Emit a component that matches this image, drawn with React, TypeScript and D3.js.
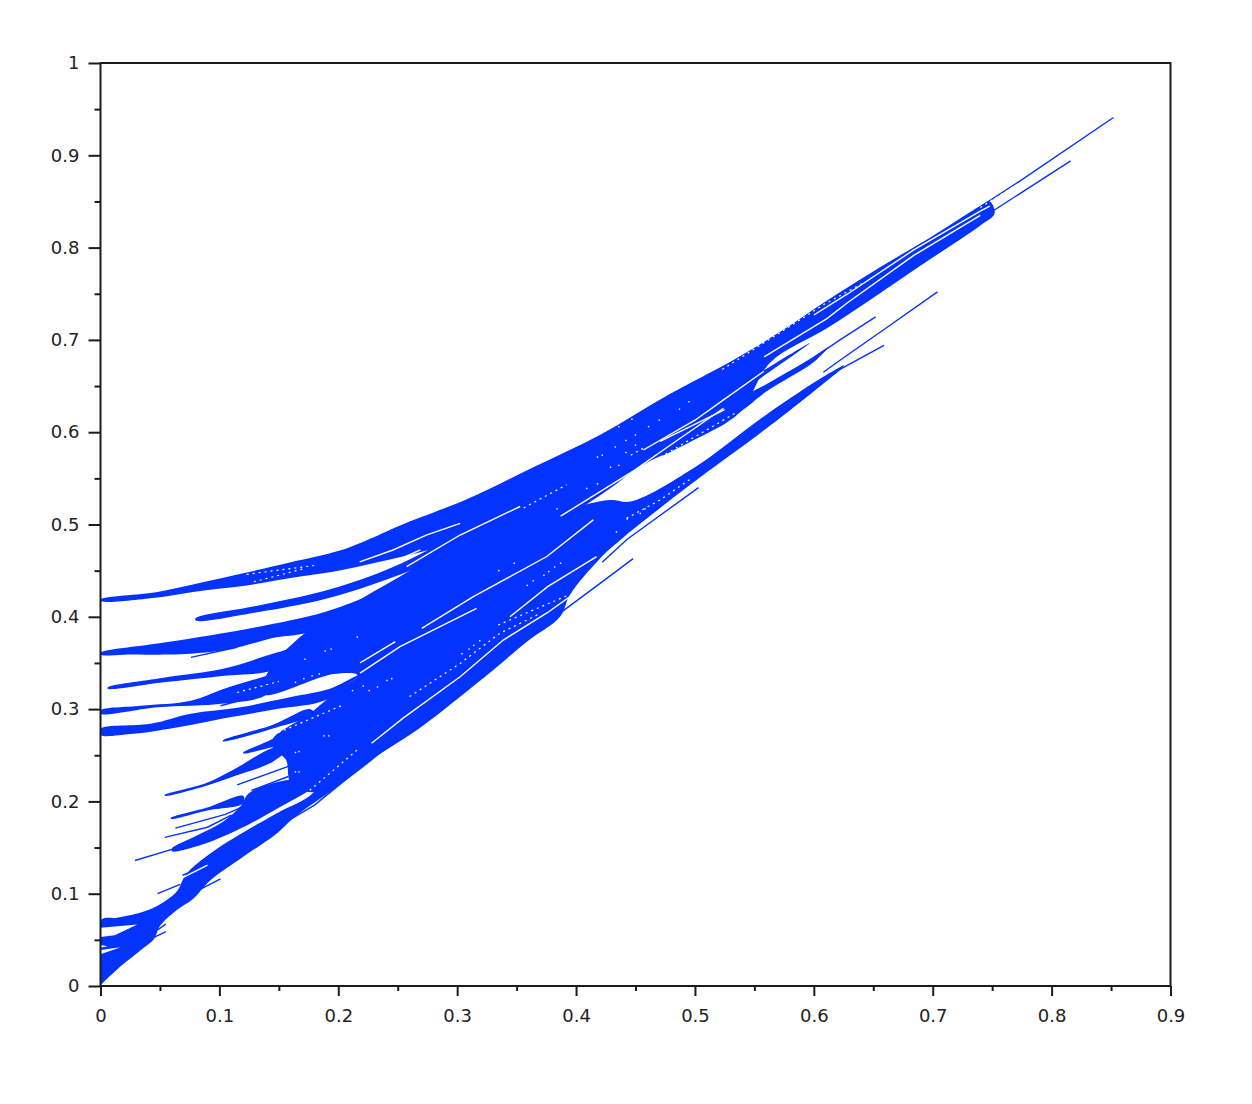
import React, { useEffect, useRef } from "react";
import * as d3 from "d3";

type P = [number, number];

const xTickValues = [0, 0.1, 0.2, 0.3, 0.4, 0.5, 0.6, 0.7, 0.8, 0.9];
const yTickValues = [0, 0.1, 0.2, 0.3, 0.4, 0.5, 0.6, 0.7, 0.8, 0.9, 1];
const xMinorValues = [0.05, 0.15, 0.25, 0.35, 0.45, 0.55, 0.65, 0.75, 0.85];
const yMinorValues = [0.05, 0.15, 0.25, 0.35, 0.45, 0.55, 0.65, 0.75, 0.85, 0.95];

// Filled bundles of curves: outlines (data units)
const bandTop: P[] = [[0,.419],[.048,.427],[.084,.437],[.123,.448],[.16,.459],[.202,.472],[.224,.483],[.252,.499],[.309,.528],[.364,.562],[.42,.597],[.477,.64],[.532,.678],[.572,.709],[.614,.745],[.656,.779],[.698,.811],[.74,.845],[.748,.85],[.752,.837],[.74,.824],[.684,.7755],[.647,.743],[.611,.7125],[.563,.675],[.538,.622],[.5,.592],[.4537,.5627],[.4285,.5391],[.395,.5124],[.356,.5],[.31,.485],[.272,.471],[.233,.459],[.2,.45],[.165,.443],[.123,.434],[.084,.428],[.048,.421],[0,.417]];
const bandStrandL4: P[] = [[.5,.62],[.563,.671],[.597,.697],[.56,.663],[.5,.61]];
const bandStrandL1: P[] = [[.47,.59],[.56,.652],[.6,.682],[.612,.692],[.6,.676],[.56,.644],[.538,.622],[.5,.594],[.47,.575]];
const bandSecond: P[] = [[.08,.3985],[.132,.412],[.188,.428],[.233,.447],[.272,.47],[.31,.5],[.31,.48],[.272,.456],[.233,.437],[.188,.419],[.132,.405],[.08,.396]];
const bandC: P[] = [[0,.361],[.048,.371],[.093,.38],[.132,.389],[.188,.405],[.23,.425],[.272,.45],[.3,.474],[.33,.5],[.33,.44],[.2,.39],[.163,.38],[.149,.378],[.109,.365],[.076,.36],[.02,.359],[0,.359]];
const bandD: P[] = [[.006,.3235],[.053,.334],[.104,.344],[.14,.358],[.16,.367],[.168,.378],[.15,.345],[.104,.336],[.053,.329],[.006,.322]];
const bandE: P[] = [[0,.2985],[.034,.3035],[.076,.309],[.104,.322],[.14,.336],[.15,.34],[.14,.316],[.104,.306],[.048,.302],[0,.295]];
const bandF: P[] = [[0,.2785],[.042,.284],[.076,.295],[.118,.302],[.16,.313],[.193,.322],[.216,.336],[.19,.31],[.148,.3],[.104,.29],[.081,.284],[.045,.276],[.025,.273],[0,.272]];
const bandCore: P[] = [[.137,.316],[.14,.338],[.165,.375],[.2,.405],[.26,.45],[.31,.49],[.36,.51],[.385,.515],[.4285,.5266],[.446,.525],[.4987,.561],[.56,.619],[.608,.66],[.625,.672],[.611,.656],[.56,.604],[.496,.543],[.437,.483],[.42,.463],[.3949,.424],[.3865,.4],[.3586,.373],[.3304,.3423],[.3025,.3135],[.272,.283],[.238,.254],[.2,.225],[.178,.21],[.16,.22],[.156,.245],[.145,.258],[.145,.268],[.176,.295],[.19,.31],[.216,.337],[.196,.338]];
const bandH1: P[] = [[.054,.207],[.089,.22],[.114,.236],[.145,.258],[.16,.26],[.145,.243],[.114,.228],[.089,.217],[.054,.206]];
const bandH2: P[] = [[.059,.182],[.089,.193],[.12,.206],[.12,.198],[.089,.19],[.059,.181]];
const bandG1: P[] = [[.103,.266],[.145,.283],[.176,.3],[.18,.295],[.145,.279],[.103,.265]];
const bandG2: P[] = [[.12,.253],[.145,.268],[.176,.292],[.165,.265],[.145,.259],[.12,.252]];
const bandLowerFan: P[] = [[.06,.149],[.081,.163],[.103,.178],[.118,.195],[.125,.209],[.156,.223],[.19,.225],[.176,.212],[.151,.194],[.123,.174],[.085,.153],[.06,.146]];
const bandBottom: P[] = [[0,.071],[.014,.074],[.031,.0785],[.048,.087],[.064,.102],[.072,.121],[.095,.146],[.148,.187],[.175,.205],[.19,.225],[.3,.35],[.3,.32],[.272,.283],[.238,.254],[.219,.235],[.196,.213],[.165,.185],[.148,.165],[.12,.14],[.092,.114],[.078,.0945],[.064,.082],[.05,.065],[.045,.051],[.035,.04],[.014,.018],[.001,.002],[0,0]];

// Single curves sticking out of the bundles
const curveTip: P[] = [[.735,.84],[.772,.871],[.852,.941]];
const curveTipLower: P[] = [[.74,.826],[.751,.84],[.816,.894]];
const curveA: P[] = [[.59,.672],[.622,.7],[.652,.725]];
const curveC: P[] = [[.608,.665],[.622,.678],[.662,.714],[.704,.752]];
const curveD: P[] = [[.502,.555],[.566,.611],[.622,.668],[.659,.694]];
const curveD2: P[] = [[.422,.459],[.443,.484],[.503,.54]];
const curveE: P[] = [[.589,.64],[.625,.672]];
const curveF: P[] = [[.3865,.404],[.4202,.4362],[.448,.463]];
const curveG: P[] = [[.029,.136],[.06,.148]];
const curveH3: P[] = [[.063,.171],[.105,.186],[.13,.2]];
const curveH4: P[] = [[.054,.161],[.09,.172],[.11,.185]];
const curveH5: P[] = [[.115,.218],[.158,.238]];
const curveH6: P[] = [[.127,.212],[.158,.227]];
const curveC2: P[] = [[.076,.356],[.115,.367]];
const curveE2: P[] = [[.101,.3036],[.137,.316]];
const curveN1: P[] = [[.034,.046],[.055,.059]];
const curveN2: P[] = [[.038,.052],[.055,.067]];
const curveN3: P[] = [[.048,.1],[.067,.11]];
const curveN4: P[] = [[.069,.12],[.09,.131]];
const curveN5: P[] = [[.069,.095],[.101,.116]];
const curveN6: P[] = [[.159,.18],[.18,.196],[.217,.235]];
const blueCurves = [curveTip, curveTipLower, curveA, curveC, curveD, curveD2, curveE, curveF, curveG, curveH3, curveH4, curveH5, curveH6, curveC2, curveE2, curveN1, curveN2, curveN3, curveN4, curveN5, curveN6];
const bands = [bandTop, bandStrandL4, bandStrandL1, bandSecond, bandC, bandD, bandE, bandF, bandCore, bandH1, bandH2, bandG1, bandG2, bandLowerFan, bandBottom];

// Blank slits between bundled curves
const slitA1: P[] = [[.2183,.339],[.2519,.3677],[.3164,.4092]];
const slitA2: P[] = [[.2183,.35],[.248,.373]];
const slitA3: P[] = [[.2702,.3875],[.3136,.4218],[.3754,.4653],[.4145,.505]];
const slitC: P[] = [[.2575,.4543],[.3025,.4886],[.353,.5195]];
const slitD: P[] = [[.387,.509],[.449,.5586],[.477,.584],[.524,.626]];
const slitL1: P[] = [[.4566,.5807],[.5,.613],[.524,.635],[.558,.666]];
const slitL2: P[] = [[.4707,.59],[.525,.6245]];
const slitG: P[] = [[.218,.4595],[.246,.4724],[.274,.4885],[.3025,.5012]];
const slitG2: P[] = [[.232,.451],[.269,.4724]];
const slitH: P[] = [[.228,.263],[.2548,.2905],[.3025,.3351],[.3388,.3748],[.3752,.4039],[.3949,.4218]];
const slitI: P[] = [[.3444,.4],[.3764,.433],[.4173,.4651]];
const slitJ: P[] = [[.6,.727],[.628,.7495],[.684,.7975],[.74,.8395],[.748,.845]];
const slitK: P[] = [[.5582,.6817],[.611,.723],[.628,.74],[.684,.7915],[.74,.835]];
const slitO: P[] = [[.07,.118],[.09,.131]];
const slits = [slitA1, slitA2, slitA3, slitC, slitD, slitL1, slitL2, slitG, slitG2, slitH, slitI, slitJ, slitK, slitO];

// Dotted gaps (curves almost touching)
const hatchA: P[] = [[.123,.446],[.182,.456]];
const hatchB: P[] = [[.129,.438],[.171,.452]];
const hatchC: P[] = [[.11,.36],[.149,.376]];
const hatchD: P[] = [[.145,.272],[.205,.305]];
const hatchE: P[] = [[.26,.3136],[.3025,.3495],[.3358,.3821],[.37,.4037]];
const hatchF: P[] = [[.176,.212],[.218,.258]];
const hatchG: P[] = [[.523,.668],[.608,.738],[.642,.762]];
const hatchH: P[] = [[.356,.518],[.392,.543]];
const hatchI: P[] = [[.115,.318],[.15,.33]];
const hatchJ: P[] = [[.4425,.5067],[.4706,.5265],[.497,.55]];
const hatchK: P[] = [[.4622,.5665],[.535,.6215]];
const hatchL: P[] = [[.446,.575],[.457,.583]];
const hatchM: P[] = [[.3345,.3911],[.3949,.4243]];
const hatchTip: P[] = [[.74,.8435],[.772,.869]];
const hatches = [hatchA, hatchB, hatchC, hatchD, hatchE, hatchF, hatchG, hatchH, hatchI, hatchJ, hatchK, hatchL, hatchM, hatchTip];

// Blank notches at the foot of the y axis
const notchA: P[] = [[0,.063],[.031,.0665],[.012,.055],[0,.053]];
const notchB: P[] = [[0,.0345],[.017,.042],[0,.039]];
const notchC: P[] = [[0,.0415],[.006,.043],[0,.0445]];
const notches = [notchA, notchB, notchC];

const pinholes: P[] = [[.418,.573],[.422,.575],[.433,.584],[.442,.591],[.45,.597],[.45,.586],[.442,.578],[.436,.606],[.447,.614],[.461,.606],[.47,.613],[.487,.625],[.495,.633],[.429,.562],[.436,.564],[.409,.539],[.418,.544],[.384,.517],[.348,.458],[.335,.45],[.387,.458],[.382,.454],[.377,.449],[.373,.445],[.364,.439],[.359,.434],[.434,.492],[.443,.506],[.454,.512],[.458,.517],[.216,.378],[.164,.329],[.171,.333],[.178,.336],[.184,.338],[.189,.363],[.194,.365],[.188,.271],[.192,.271],[.164,.253],[.167,.254],[.164,.232],[.167,.232],[.172,.354],[.212,.32],[.221,.325],[.226,.32],[.233,.324],[.241,.331],[.245,.333],[.304,.36],[.31,.365],[.314,.369],[.319,.374]];

const BLUE = "#0433ff";
const INK = "#1c1c1c";

export default function App() {
  const xRef = useRef<SVGGElement>(null);
  const yRef = useRef<SVGGElement>(null);
  const xScale = d3.scaleLinear().domain([0, 0.9]).range([100.5, 1170.5]);
  const yScale = d3.scaleLinear().domain([0, 1]).range([986, 63]);
  const line = d3.line<P>().x((d) => xScale(d[0])).y((d) => yScale(d[1]));
  const smooth = d3.line<P>().x((d) => xScale(d[0])).y((d) => yScale(d[1])).curve(d3.curveCatmullRomClosed.alpha(0.5));
  const poly = (pts: P[]) => line(pts) + "Z";

  useEffect(() => {
    const fmt = (d: d3.NumberValue) => String(+d);
    const styleAxis = (g: d3.Selection<SVGGElement, unknown, null, undefined>) => {
      g.selectAll("path").remove();
      g.selectAll("line").attr("stroke", INK).attr("stroke-width", 2);
      g.selectAll("text").attr("fill", "#222").attr("font-size", 18).attr("font-family", "'DejaVu Sans'");
    };
    const gx = d3.select(xRef.current!);
    gx.selectAll("*").remove();
    const xMajor = gx.append("g").call(d3.axisBottom(xScale).tickValues(xTickValues).tickSize(10).tickPadding(13).tickFormat(fmt));
    const xMinor = gx.append("g").call(d3.axisBottom(xScale).tickValues(xMinorValues).tickSize(5).tickFormat(() => ""));
    styleAxis(xMajor as any);
    styleAxis(xMinor as any);
    const gy = d3.select(yRef.current!);
    gy.selectAll("*").remove();
    const yMajor = gy.append("g").call(d3.axisLeft(yScale).tickValues(yTickValues).tickSize(12).tickPadding(9).tickFormat(fmt));
    const yMinor = gy.append("g").call(d3.axisLeft(yScale).tickValues(yMinorValues).tickSize(6).tickFormat(() => ""));
    styleAxis(yMajor as any);
    styleAxis(yMinor as any);
  }, []);

  return (
    <svg width={1252} height={1104} style={{ position: "absolute", left: 0, top: 0, background: "#fff" }}>
      <defs>
        <clipPath id="plot"><rect x={100.5} y={63} width={1070} height={923} /></clipPath>
      </defs>
      <g clipPath="url(#plot)">
        {bands.map((b, i) => <path key={i} d={smooth(b)!} fill={BLUE} />)}
        {blueCurves.map((c, i) => (
          <path key={i} d={line(c)!} fill="none" stroke={BLUE} strokeWidth={1.4} />
        ))}
        {slits.map((c, i) => <path key={i} d={line(c)!} fill="none" stroke="#fff" strokeWidth={1.4} />)}
        {hatches.map((c, i) => <path key={i} d={line(c)!} fill="none" stroke="#fff" strokeWidth={1.2} strokeDasharray="2 4" />)}
        {notches.map((c, i) => <path key={i} d={poly(c)} fill="#fff" />)}
        {pinholes.map((p, i) => (
          <rect key={i} x={xScale(p[0]) - 0.7} y={yScale(p[1]) - 0.7} width={1.4} height={1.4} fill="#fff" />
        ))}
      </g>
      <rect x={100.5} y={63} width={1070} height={923} fill="none" stroke={INK} strokeWidth={2} />
      <g ref={xRef} transform="translate(0,986)" />
      <g ref={yRef} transform="translate(100.5,0)" />
    </svg>
  );
}
